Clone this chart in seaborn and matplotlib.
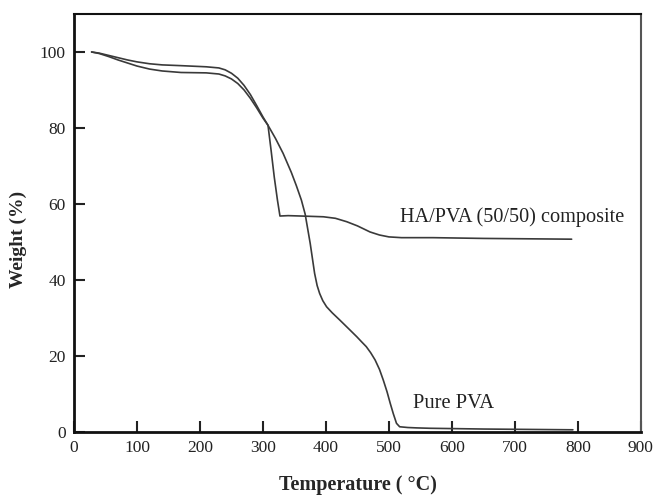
import numpy as np
import pandas as pd
import matplotlib
matplotlib.use("Agg")
import matplotlib.pyplot as plt
import seaborn as sns

# Data
comp_temp = [28, 40, 55, 70, 85, 100, 120, 140, 170, 210, 230, 240, 250, 260, 270, 280, 290, 300, 308,
             313, 318, 323, 327, 340, 360, 396, 415, 433, 450, 470, 485, 500, 520, 570, 650, 790]
comp_weight = [100, 99.7, 99.1, 98.5, 97.9, 97.4, 96.9, 96.6, 96.4, 96.1, 95.8, 95.3, 94.4, 93.1, 91.2, 88.8,
               85.9, 82.9, 80.7, 74.0, 67.0, 61.0, 56.8, 56.9, 56.8, 56.6, 56.2, 55.3, 54.2, 52.6, 51.8,
               51.3, 51.1, 51.1, 50.9, 50.7]

pva_temp = [28, 40, 55, 70, 85, 100, 120, 140, 170, 210, 230, 240, 250, 260, 270, 280, 290, 300, 308,
            320, 332, 345, 353, 361, 367, 375, 382, 386, 390, 395, 401, 410, 422, 438, 449, 457, 464,
            471, 478, 485, 491, 497, 502, 507, 512, 517, 530, 544, 565, 650, 792]
pva_weight = [100, 99.6, 98.8, 97.9, 97.1, 96.3, 95.5, 95.0, 94.6, 94.5, 94.2, 93.7, 92.9, 91.7, 90.0, 87.8,
              85.3, 82.6, 80.7, 77.2, 73.3, 68.3, 64.8, 61.0, 57.3, 49.6, 41.7, 38.5, 36.4, 34.5, 32.9,
              31.3, 29.4, 26.8, 25.0, 23.6, 22.4, 20.8, 18.9, 16.4, 13.6, 10.5, 7.5, 4.7, 2.2, 1.3, 1.1,
              1.0, 0.9, 0.7, 0.5]

x_ticks = [0, 100, 200, 300, 400, 500, 600, 700, 800, 900]
y_ticks = [0, 20, 40, 60, 80, 100]

sns.set_style("ticks")
plt.rcParams['font.family'] = ['Liberation Serif', 'DejaVu Serif']

fig = plt.figure(figsize=(6.54, 4.97), dpi=100)
ax = fig.add_axes([0.1131, 0.1314, 0.8669, 0.8404])

df_c = pd.DataFrame({"T": comp_temp, "W": comp_weight})
df_p = pd.DataFrame({"T": pva_temp, "W": pva_weight})
line_col = "#3a3a3a"
sns.lineplot(data=df_c, x="T", y="W", sort=False, estimator=None, color=line_col, lw=1.2, ax=ax)
sns.lineplot(data=df_p, x="T", y="W", sort=False, estimator=None, color=line_col, lw=1.2, ax=ax)

ax.set_xlim(0, 900)
ax.set_ylim(0, 110)
ax.set_xticks(x_ticks)
ax.set_yticks(y_ticks)
ax.set_xticklabels([str(v) for v in x_ticks])
ax.set_yticklabels([str(v) for v in y_ticks])
ax.tick_params(direction="in", length=8, width=1.5, labelsize=12.5, pad=6,
               colors="#222222", top=False, right=False)

for s in ["left", "bottom"]:
    ax.spines[s].set_linewidth(2.0)
    ax.spines[s].set_color("#111111")
ax.spines["top"].set_linewidth(1.5)
ax.spines["top"].set_color("#111111")
ax.spines["right"].set_linewidth(1.5)
ax.spines["right"].set_color("#555555")

ax.set_xlabel("Temperature ( °C)", fontsize=14.5, fontweight="bold", labelpad=14)
ax.set_ylabel("Weight (%)", fontsize=14, fontweight="bold")
ax.yaxis.set_label_coords(-0.083, 0.461)

ax.text(517, 56.5, "HA/PVA (50/50) composite", fontsize=14.6, va="center", ha="left", color="#222222")
ax.text(538, 7.3, "Pure PVA", fontsize=14.8, va="center", ha="left", color="#222222")

fig.savefig("out.png", dpi=100)
